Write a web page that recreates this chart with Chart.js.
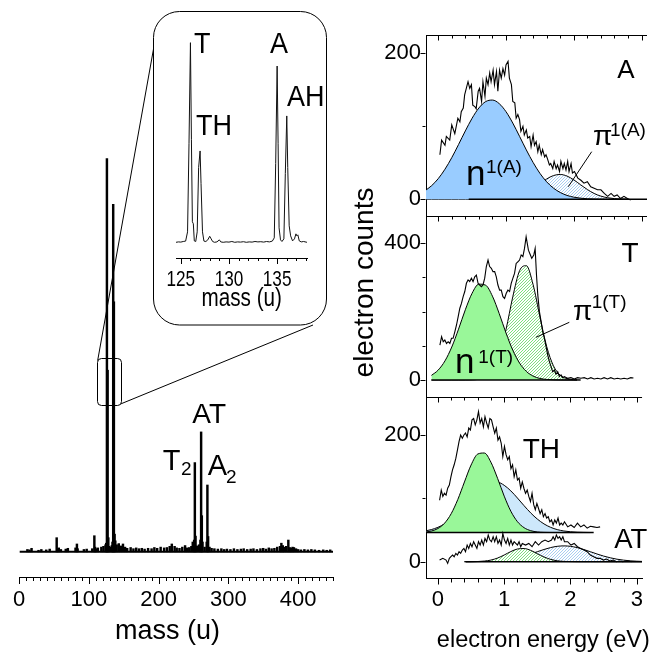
<!DOCTYPE html>
<html>
<head>
<meta charset="utf-8">
<script src="https://cdn.jsdelivr.net/npm/chart.js@4.4.1/dist/chart.umd.min.js"></script>
<style>
    body { margin: 0; background: #fff; }
    #fig { position: relative; width: 652px; height: 652px; overflow: hidden; background: #fff; }
    #fig canvas { position: absolute; }
</style>
</head>
<body>
<div id="fig">
    <canvas id="massChart" width="345" height="652" style="left:0;top:0"></canvas>
    <canvas id="insetChart" width="175" height="315" style="left:153px;top:12px"></canvas>
    <canvas id="panelA" width="312" height="221" style="left:340px;top:15px"></canvas>
    <canvas id="panelT" width="312" height="247" style="left:340px;top:170px"></canvas>
    <canvas id="panelB" width="312" height="275" style="left:340px;top:377px"></canvas>
</div>
<script>
// ─────────────────────────────────────────
//  DATA — mass spectrum (left)
// ─────────────────────────────────────────
const massTicks = [0, 100, 200, 300, 400];
const peakMass = [12, 15, 18, 28, 32, 39, 44, 54, 55, 57,
    60, 67, 70, 81, 83, 84, 93, 97, 105, 108,
    109, 110, 113, 118, 121, 124, 125, 126, 127, 128,
    129, 131, 133, 134, 135, 136, 137, 138, 140, 143,
    146, 149, 152, 155, 160, 164, 168, 172, 176, 180,
    185, 190, 194, 198, 203, 208, 212, 216, 219, 223,
    226, 230, 234, 238, 241, 244, 247, 249, 251, 252,
    253, 255, 258, 260, 261, 262, 263, 266, 269, 270,
    271, 273, 276, 280, 285, 290, 294, 298, 303, 308,
    313, 318, 322, 327, 332, 336, 341, 346, 350, 354,
    358, 362, 366, 370, 374, 376, 378, 380, 383, 386,
    388, 390, 392, 394, 397, 400, 404, 409, 414, 419,
    424, 430, 436, 441, 446];
const peakHeight = [6, 5, 9, 4, 6, 5, 7, 36, 8, 10,
    6, 7, 9, 10, 20, 8, 6, 7, 8, 41,
    12, 8, 10, 12, 14, 18, 22, 1000, 462, 36,
    14, 12, 16, 25, 884, 636, 45, 28, 18, 21,
    15, 20, 12, 9, 11, 8, 10, 8, 9, 7,
    9, 8, 11, 9, 12, 10, 11, 14, 20, 14,
    10, 9, 12, 16, 10, 11, 14, 25, 30, 227,
    40, 15, 18, 30, 305, 92, 25, 12, 25, 170,
    39, 12, 9, 8, 7, 8, 6, 7, 6, 8,
    6, 7, 8, 6, 7, 8, 6, 8, 9, 7,
    10, 8, 9, 12, 14, 22, 16, 12, 14, 30,
    11, 9, 12, 11, 8, 6, 5, 6, 5, 6,
    5, 4, 5, 4, 5];
const massBaseX = [1, 450];
const massBaseY = [0, 0];

// inset (125–138 u)
const insetTicks = [125, 130, 135];
const insetMass = [124.5, 124.75, 125.0, 125.25, 125.5, 125.7, 125.85, 126.0, 126.1, 126.2,
    126.3, 126.4, 126.55, 126.7, 126.85, 127.0, 127.1, 127.25, 127.4, 127.6,
    127.8, 128.0, 128.15, 128.3, 128.5, 128.75, 129.0, 129.15, 129.4, 129.7,
    130.0, 130.3, 130.6, 130.9, 131.2, 131.5, 131.8, 132.1, 132.4, 132.7,
    133.0, 133.3, 133.6, 133.9, 134.2, 134.5, 134.7, 134.85, 135.0, 135.1,
    135.2, 135.35, 135.5, 135.7, 135.85, 136.0, 136.1, 136.25, 136.4, 136.6,
    136.8, 136.95, 137.05, 137.15, 137.3, 137.5, 137.75, 138.0, 138.1];
const insetSignal = [8, 10, 9, 12, 14, 60, 500, 1000, 520, 110,
    100, 15, 12, 60, 380, 462, 300, 60, 14, 12,
    20, 38, 25, 12, 8, 10, 20, 10, 8, 10,
    9, 12, 8, 10, 9, 11, 8, 10, 9, 12,
    10, 11, 9, 12, 10, 14, 30, 400, 884, 500,
    80, 20, 12, 25, 350, 636, 380, 90, 40, 15,
    25, 50, 40, 45, 15, 10, 12, 9, 8];

// ─────────────────────────────────────────
//  DATA — electron spectra (right)
// ─────────────────────────────────────────
const energyTicks = [0, 1, 2, 3];

// A
const expA_E = [0.025, 0.05, 0.10, 0.12, 0.17, 0.20, 0.245, 0.29, 0.32, 0.34,
    0.37, 0.39, 0.42, 0.44, 0.465, 0.49, 0.51, 0.54, 0.56, 0.59,
    0.61, 0.64, 0.66, 0.69, 0.71, 0.735, 0.76, 0.78, 0.81, 0.83,
    0.86, 0.88, 0.905, 0.93, 0.955, 0.98, 1.00, 1.03, 1.05, 1.08,
    1.10, 1.13, 1.15, 1.175, 1.20, 1.22, 1.25, 1.27, 1.30, 1.32,
    1.35, 1.37, 1.40, 1.42, 1.445, 1.47, 1.49, 1.52, 1.54, 1.57,
    1.59, 1.61, 1.64, 1.66, 1.69, 1.71, 1.74, 1.76, 1.79, 1.81,
    1.84, 1.86, 1.885, 1.91, 1.93, 1.96, 1.98, 2.01, 2.06, 2.105,
    2.15, 2.20, 2.25, 2.30, 2.35, 2.40, 2.45, 2.50, 2.55, 2.595,
    2.64, 2.69, 2.74, 2.79, 2.84];
const expA_N = [61, 81, 74, 86, 81, 102, 90, 111, 106, 120,
    125, 143, 154, 161, 152, 157, 129, 127, 124, 148,
    152, 134, 161, 141, 166, 157, 173, 161, 177, 157,
    175, 148, 177, 166, 179, 170, 184, 189, 166, 157,
    134, 132, 111, 116, 109, 93, 100, 88, 95, 84,
    86, 72, 88, 74, 79, 65, 74, 61, 68, 58,
    61, 56, 47, 49, 42, 52, 42, 47, 38, 52,
    42, 49, 40, 52, 38, 49, 36, 38, 29, 26,
    22, 24, 17, 15, 13, 13, 8, 4, 8, 4,
    6, 1, 4, 1, -1];
const fitA_E = [-0.2, -0.1, 0.0, 0.1, 0.2, 0.3, 0.4, 0.5, 0.6, 0.7,
    0.8, 0.9, 1.0, 1.1, 1.2, 1.3, 1.4, 1.5, 1.6, 1.7,
    1.8, 1.9, 2.0, 2.1, 2.2, 2.3, 2.4, 2.5, 2.6, 2.7, 2.8];
const n1A = [11.4, 18.4, 28.2, 41.2, 57, 75, 93.6, 111, 125, 133.8,
    135.9, 131, 120, 104.4, 86.2, 67.6, 50.4, 35.6, 23.9, 15.3,
    9.3, 5.3, 2.9, 1.5, 0.7, 0.3, 0.1, 0, 0, 0, 0];
const pi1A = [0, 0, 0, 0, 0, 0, 0, 0, 0, 0,
    0, 0.4, 1.1, 2.4, 4.9, 9.0, 14.6, 21.3, 27.8, 32.5,
    34, 31.8, 26.6, 19.9, 13.4, 8.0, 4.3, 2.1, 0.9, 0.3, 0.1];
const baseA_E = [0.45, 3.08];
const baseA_N = [0, 0];

// T
const expT_E = [0.025, 0.05, 0.074, 0.098, 0.123, 0.147, 0.172, 0.196, 0.22, 0.245,
    0.27, 0.294, 0.319, 0.343, 0.368, 0.392, 0.416, 0.441, 0.465, 0.49,
    0.514, 0.539, 0.563, 0.588, 0.612, 0.637, 0.661, 0.686, 0.71, 0.735,
    0.759, 0.784, 0.808, 0.833, 0.857, 0.881, 0.906, 0.93, 0.955, 0.979,
    1.004, 1.028, 1.053, 1.077, 1.102, 1.126, 1.15, 1.175, 1.2, 1.224,
    1.249, 1.273, 1.297, 1.331, 1.36, 1.38, 1.41, 1.43, 1.45, 1.469,
    1.493, 1.518, 1.542, 1.567, 1.591, 1.616, 1.64, 1.665, 1.689, 1.714,
    1.738, 1.763, 1.787, 1.812, 1.836, 1.86, 1.909, 1.958, 2.007, 2.056,
    2.105, 2.154, 2.203, 2.252, 2.3, 2.35, 2.4, 2.447, 2.497, 2.546,
    2.595, 2.644, 2.693, 2.742, 2.79, 2.84, 2.88];
const expT_N = [102, 127, 112, 117, 107, 112, 107, 122, 122, 141,
    161, 185, 210, 224, 244, 259, 283, 293, 288, 298,
    288, 302, 307, 283, 278, 273, 278, 298, 332, 351,
    332, 327, 317, 317, 302, 278, 263, 263, 244, 239,
    254, 263, 259, 283, 298, 312, 341, 346, 351, 366,
    361, 385, 419, 380, 366, 356, 366, 385, 307, 249,
    200, 171, 141, 122, 98, 73, 54, 39, 24, 29,
    17, 24, 10, 15, 7, 10, 5, 7, 3, 7,
    5, 7, 3, 7, 3, 5, 3, 7, 3, 7,
    3, 5, 3, 5, 3, 7, 6];
const fitT_E = [-0.1, 0.0, 0.1, 0.2, 0.3, 0.4, 0.5, 0.6, 0.7, 0.8,
    0.9, 1.0, 1.1, 1.2, 1.3, 1.4, 1.5, 1.6, 1.7, 1.8,
    1.9, 2.0, 2.1];
const n1T = [13.5, 29.1, 56, 96.5, 148.9, 205.5, 253.9, 280.5, 277.4, 245.4,
    194.4, 137.8, 87.3, 49.6, 25.2, 11.4, 4.6, 1.7, 0.5, 0.1,
    0, 0, 0];
const pi1T = [0, 0, 0, 0, 0, 0, 0.4, 2.1, 8.4, 27.5,
    71.3, 147.6, 243.4, 319.7, 334.6, 279, 185.3, 98.1, 41.4, 13.9,
    3.7, 0.8, 0.1];
const baseT_E = [-0.1, 2.05];
const baseT_N = [0, 0];

// TH (offset) and AT
const expTH_E = [0.025, 0.05, 0.074, 0.098, 0.123, 0.147, 0.172, 0.196, 0.22, 0.245,
    0.27, 0.294, 0.319, 0.343, 0.368, 0.392, 0.416, 0.441, 0.465, 0.49,
    0.514, 0.539, 0.563, 0.588, 0.612, 0.637, 0.661, 0.686, 0.71, 0.735,
    0.759, 0.784, 0.808, 0.833, 0.857, 0.881, 0.906, 0.93, 0.955, 0.979,
    1.004, 1.028, 1.053, 1.077, 1.102, 1.126, 1.15, 1.175, 1.2, 1.224,
    1.249, 1.273, 1.297, 1.322, 1.347, 1.371, 1.396, 1.42, 1.445, 1.469,
    1.493, 1.518, 1.542, 1.567, 1.591, 1.616, 1.64, 1.665, 1.689, 1.714,
    1.738, 1.763, 1.787, 1.812, 1.836, 1.86, 1.885, 1.909, 1.958, 2.007,
    2.056, 2.105, 2.154, 2.203, 2.252, 2.3, 2.35, 2.4, 2.447];
const expTH_N = [97, 113, 103, 108, 105, 116, 121, 134, 145, 153,
    163, 176, 190, 200, 195, 200, 203, 197, 211, 208,
    224, 226, 216, 224, 237, 219, 226, 213, 229, 219,
    211, 226, 224, 213, 203, 211, 192, 197, 187, 166,
    182, 169, 161, 166, 147, 153, 134, 145, 129, 132,
    116, 126, 116, 108, 113, 103, 95, 108, 90, 82,
    92, 84, 76, 82, 71, 76, 69, 71, 63, 66,
    58, 66, 61, 69, 58, 61, 58, 63, 55, 58,
    54, 61, 55, 58, 53, 56, 55, 54, 55];
const fitTH_E = [-0.2, -0.1, 0.0, 0.1, 0.2, 0.3, 0.4, 0.5, 0.6, 0.7,
    0.8, 0.9, 1.0, 1.1, 1.2, 1.3, 1.4, 1.5, 1.6, 1.7,
    1.8, 1.9, 2.0, 2.1, 2.2, 2.3];
const n1TH = [46.8, 48.4, 52.4, 60.8, 75.8, 98.3, 125.9, 152.6, 169.9, 171.6,
    157, 131.6, 103.5, 79.7, 63.2, 53.7, 49, 47, 46.3, 46.1,
    46, 46, 46, 46, 46, 46];
const piTH = [48.5, 50.7, 54.3, 59.7, 67.3, 77, 88.4, 100.5, 111.8, 120.6,
    125.4, 125.4, 120.6, 111.8, 100.5, 88.4, 77, 67.3, 59.7, 54.3,
    50.7, 48.5, 47.3, 46.6, 46.3, 46.1];
const baseTH_E = [-0.18, 2.35];
const baseTH_N = [46, 46];
const thOffset = 46;

const expAT_E = [0.025, 0.074, 0.123, 0.147, 0.172, 0.196, 0.221, 0.245, 0.27, 0.294,
    0.319, 0.343, 0.368, 0.392, 0.416, 0.441, 0.465, 0.49, 0.514, 0.539,
    0.563, 0.588, 0.612, 0.637, 0.661, 0.686, 0.71, 0.735, 0.759, 0.784,
    0.808, 0.833, 0.857, 0.881, 0.906, 0.93, 0.955, 0.979, 1.004, 1.028,
    1.053, 1.077, 1.102, 1.126, 1.15, 1.175, 1.2, 1.224, 1.249, 1.273,
    1.322, 1.371, 1.42, 1.469, 1.518, 1.567, 1.616, 1.665, 1.714, 1.738,
    1.763, 1.787, 1.812, 1.836, 1.86, 1.885, 1.909, 1.958, 2.007, 2.056,
    2.105, 2.154, 2.203, 2.252, 2.3, 2.35, 2.4, 2.447, 2.497, 2.546,
    2.595, 2.644, 2.693, 2.742, 2.79, 2.839, 2.88, 2.92];
const expAT_N = [2.6, 5.3, 2.6, -2.6, 5.3, 7.9, 10.5, 7.9, 13.2, 10.5,
    15.8, 13.2, 18.4, 21, 15.8, 26.3, 21, 28.9, 23.7, 31.6,
    26.3, 21, 31.6, 26.3, 34.2, 26.3, 36.8, 31.6, 42.1, 34.2,
    31.6, 39.5, 31.6, 39.5, 28.9, 34.2, 26.3, 44.7, 34.2, 28.9,
    36.8, 26.3, 34.2, 26.3, 31.6, 28.9, 26.3, 31.6, 23.7, 28.9,
    26.3, 28.9, 23.7, 31.6, 26.3, 31.6, 34.2, 31.6, 34.2, 39.5,
    34.2, 42.1, 36.8, 39.5, 34.2, 39.5, 31.6, 31.6, 26.3, 28.9,
    23.7, 21, 18.4, 15.8, 10.5, 7.9, 5.3, 5.3, 2.6, 4.2,
    1, 2.6, 0, 1, 0, 1, 1, 0];
const fitAT_E = [0.4, 0.5, 0.6, 0.7, 0.8, 0.9, 1.0, 1.1, 1.2, 1.3,
    1.4, 1.5, 1.6, 1.7, 1.8, 1.9, 2.0, 2.1, 2.2, 2.3,
    2.4, 2.5, 2.6, 2.7, 2.8, 2.9, 3.0, 3.1];
const atGreen = [0, 0.1, 0.3, 1, 2.6, 5.8, 10.6, 16, 20.1, 20.8,
    17.9, 12.7, 7.5, 3.7, 1.5, 0.5, 0.2, 0, 0, 0,
    0, 0, 0, 0, 0, 0, 0, 0];
const atBlue = [0, 0, 0.2, 0.4, 0.8, 1.4, 2.5, 4, 6.2, 8.9,
    12.2, 15.8, 19.3, 22.3, 24.3, 25, 24.3, 22.3, 19.3, 15.8,
    12.2, 8.9, 6.2, 4, 2.5, 1.4, 0.8, 0.4];
const baseAT_E = [0.42, 3.08];
const baseAT_N = [0, 0];

// ─────────────────────────────────────────
//  HELPERS
// ─────────────────────────────────────────
const FONT = '"Liberation Sans", Arial, Helvetica, sans-serif';
Chart.defaults.font.family = FONT;
Chart.defaults.color = '#000';

const BLUE = '#99ccff';
const GREEN = '#99f799';
const PALE_BLUE = '#cde8fb';

function pts(xs, ys) {
    return xs.map((x, i) => ({ x: x, y: ys[i] }));
}

// diagonal hatch used for the pi fits
function hatch(lineColor) {
    const c = document.createElement('canvas');
    c.width = 3; c.height = 3;
    const g = c.getContext('2d');
    g.fillStyle = '#fff';
    g.fillRect(0, 0, 3, 3);
    g.fillStyle = lineColor;
    // one-pixel diagonal, tiles into continuous "/" lines
    g.fillRect(2, 0, 1, 1);
    g.fillRect(1, 1, 1, 1);
    g.fillRect(0, 2, 1, 1);
    return g.createPattern(c, 'repeat');
}
const HATCH_BLUE = hatch('#a9cdf0');
const HATCH_GREEN = hatch('#7fe07f');

function say(ctx, s, x, y, size, align, sx) {
    ctx.save();
    ctx.font = size + 'px ' + FONT;
    ctx.fillStyle = '#000';
    ctx.textAlign = align || 'center';
    ctx.textBaseline = 'alphabetic';
    ctx.translate(x, y);
    if (sx) ctx.scale(sx, 1);
    ctx.fillText(s, 0, 0);
    ctx.restore();
}

function roundRect(ctx, x, y, w, h, r) {
    ctx.beginPath();
    ctx.moveTo(x + r, y);
    ctx.arcTo(x + w, y, x + w, y + h, r);
    ctx.arcTo(x + w, y + h, x, y + h, r);
    ctx.arcTo(x, y + h, x, y, r);
    ctx.arcTo(x, y, x + w, y, r);
    ctx.closePath();
}

function expLine(xs, ys) {
    return { data: pts(xs, ys), borderColor: '#000', borderWidth: 1.1, pointRadius: 0, tension: 0, fill: false };
}
function fitCurve(xs, ys, bg, base) {
    return {
        data: pts(xs, ys), borderColor: '#000', borderWidth: 1, pointRadius: 0,
        cubicInterpolationMode: 'monotone', backgroundColor: bg,
        fill: base === undefined ? 'origin' : { value: base }
    };
}
function baseLine(xs, ys) {
    return { data: pts(xs, ys), borderColor: '#000', borderWidth: 1.5, pointRadius: 0, fill: false };
}

// ─────────────────────────────────────────
//  1. MASS SPECTRUM (left)
// ─────────────────────────────────────────
const massDecor = {
    id: 'massDecor',
    afterDraw(chart) {
        const ctx = chart.ctx, a = chart.chartArea, xs = chart.scales.x, ys = chart.scales.y;
        ctx.save();
        ctx.strokeStyle = '#000';
        ctx.lineWidth = 1;
        ctx.beginPath();
        for (let v = 0; v <= 450; v += 10) {
            const px = Math.round(xs.getPixelForValue(v)) + 0.5;
            ctx.moveTo(px, a.bottom);
            ctx.lineTo(px, a.bottom + (v % 100 === 0 ? 7 : 4));
        }
        ctx.stroke();

        // inset frame
        roundRect(ctx, 153.5, 11.5, 173, 313.5, 26);
        ctx.fillStyle = '#fff';
        ctx.fill();
        ctx.stroke();

        // zoom box on the 125-138 u group
        const x0 = xs.getPixelForValue(112), x1 = xs.getPixelForValue(147);
        const y0 = ys.getPixelForValue(494), y1 = ys.getPixelForValue(374);
        roundRect(ctx, Math.round(x0) + 0.5, Math.round(y0) + 0.5, Math.round(x1 - x0), Math.round(y1 - y0), 4);
        ctx.stroke();
        ctx.beginPath();
        ctx.moveTo(x0 + 0.5, y0 + 3); ctx.lineTo(153.5, 49);
        ctx.moveTo(x1 - 0.5, y1 - 1); ctx.lineTo(313, 325);
        ctx.stroke();

        say(ctx, 'T', 171.7, 470, 29);
        say(ctx, '2', 181, 475, 19, 'left');
        say(ctx, 'AT', 209.2, 423.3, 28);
        say(ctx, 'A', 217.5, 475, 29);
        say(ctx, '2', 226, 483, 19, 'left');
        say(ctx, 'mass (u)', 167.5, 638.5, 27);
        ctx.restore();
    }
};

new Chart(document.getElementById('massChart'), {
    type: 'bar',
    data: {
        datasets: [
            { type: 'bar', data: pts(peakMass, peakHeight), backgroundColor: '#000', borderWidth: 0, barThickness: 1.8 },
            { type: 'line', data: pts(massBaseX, massBaseY), borderColor: '#000', borderWidth: 2, pointRadius: 0 }
        ]
    },
    options: {
        responsive: false, animation: false, events: [],
        layout: { padding: { left: 19, right: 12, top: 139, bottom: 0 } },
        plugins: { legend: { display: false }, tooltip: { enabled: false } },
        scales: {
            x: {
                type: 'linear', min: 0, max: 450, offset: false,
                grid: { display: false, drawTicks: false },
                border: { color: '#000', width: 1 },
                ticks: { font: { size: 22 }, padding: 10, color: '#000' },
                afterBuildTicks: s => { s.ticks = massTicks.map(v => ({ value: v })); },
                afterFit: s => { s.height = 75; }
            },
            y: { display: false, min: -64, max: 1050 }
        }
    },
    plugins: [massDecor]
});

// ─────────────────────────────────────────
//  2. INSET
// ─────────────────────────────────────────
const insetDecor = {
    id: 'insetDecor',
    afterDraw(chart) {
        const ctx = chart.ctx, a = chart.chartArea, xs = chart.scales.x;
        ctx.save();
        ctx.strokeStyle = '#000';
        ctx.lineWidth = 1;
        ctx.beginPath();
        for (let v = 125; v <= 138; v++) {
            const px = Math.round(xs.getPixelForValue(v)) + 0.5;
            ctx.moveTo(px, a.bottom);
            ctx.lineTo(px, a.bottom + (v % 5 === 0 ? 6 : 3));
        }
        ctx.stroke();
        insetTicks.forEach(v => say(ctx, String(v), xs.getPixelForValue(v), 286 - 12, 22, 'center', 0.78));
        ctx.translate(-153, -12);
        say(ctx, 'T', 202.3, 53.3, 30, 'center', 0.9);
        say(ctx, 'TH', 214, 135, 30, 'center', 0.9);
        say(ctx, 'A', 279, 53.3, 30, 'center', 0.9);
        say(ctx, 'AH', 305.8, 106, 30, 'center', 0.9);
        say(ctx, 'mass (u)', 241.7, 306, 26.5, 'center', 0.78);
        ctx.restore();
    }
};

new Chart(document.getElementById('insetChart'), {
    type: 'line',
    data: {
        datasets: [{ data: pts(insetMass, insetSignal), borderColor: '#111', borderWidth: 1, pointRadius: 0, tension: 0 }]
    },
    options: {
        responsive: false, animation: false, events: [],
        layout: { padding: { left: 23, right: 21, top: 18, bottom: 0 } },
        plugins: { legend: { display: false }, tooltip: { enabled: false } },
        scales: {
            x: {
                type: 'linear', min: 124.5, max: 138.1,
                grid: { display: false, drawTicks: false },
                border: { color: '#000', width: 1 },
                ticks: { display: false },
                afterFit: s => { s.height = 69; }
            },
            y: { display: false, min: -70, max: 1063 }
        }
    },
    plugins: [insetDecor]
});

// ─────────────────────────────────────────
//  3. ELECTRON SPECTRA PANELS (right)
// ─────────────────────────────────────────
function panelFrame(chart, cfg) {
    const ctx = chart.ctx, a = chart.chartArea, xs = chart.scales.x, ys = chart.scales.y;
    ctx.save();
    ctx.strokeStyle = '#000';
    ctx.lineWidth = 1;
    ctx.beginPath();
    const top = Math.round(a.top) + 0.5;
    const bottom = Math.round(a.bottom) + 0.5;
    const left = Math.round(a.left) - 0.5;
    ctx.moveTo(a.left, top);
    ctx.lineTo(a.right, top);
    for (let i = 0; i <= 15; i++) {
        const px = Math.round(xs.getPixelForValue(i * 0.2)) + 0.5;
        const len = i % 5 === 0 ? 5 : 3;
        ctx.moveTo(px, top); ctx.lineTo(px, top + len);
        if (cfg.showX) { ctx.moveTo(px, bottom); ctx.lineTo(px, bottom + len + 1); }
    }
    cfg.yMajor.forEach(v => {
        const py = Math.round(ys.getPixelForValue(v)) + 0.5;
        ctx.moveTo(left, py); ctx.lineTo(left - 5, py);
    });
    cfg.yMinor.forEach(v => {
        const py = Math.round(ys.getPixelForValue(v)) + 0.5;
        ctx.moveTo(left, py); ctx.lineTo(left - 3, py);
    });
    ctx.stroke();
    ctx.translate(-cfg.left, -cfg.top);
    cfg.notes(ctx);
    ctx.restore();
}

function panel(cfg) {
    const xAxis = {
        type: 'linear', min: -0.18, max: 3.08, display: cfg.showX,
        grid: { display: false, drawTicks: false },
        border: { color: '#000', width: 1 },
        ticks: { font: { size: 22 }, padding: 9, color: '#000' },
        afterBuildTicks: s => { s.ticks = energyTicks.map(v => ({ value: v })); }
    };
    if (cfg.showX) xAxis.afterFit = s => { s.height = 74; };

    return new Chart(document.getElementById(cfg.id), {
        type: 'line',
        data: { datasets: cfg.datasets },
        options: {
            responsive: false, animation: false, events: [],
            layout: { padding: { left: 0, right: 5, top: cfg.padTop, bottom: cfg.padBottom } },
            plugins: { legend: { display: false }, tooltip: { enabled: false } },
            scales: {
                x: xAxis,
                y: {
                    min: cfg.yMin, max: cfg.yMax,
                    grid: { display: false, drawTicks: false },
                    border: { color: '#000', width: 1 },
                    ticks: { font: { size: 22 }, padding: 5, color: '#000' },
                    afterBuildTicks: s => { s.ticks = cfg.yMajor.map(v => ({ value: v })); },
                    afterFit: s => { s.width = 86; }
                }
            }
        },
        plugins: [{ id: 'frame_' + cfg.id, afterDraw: chart => panelFrame(chart, cfg) }]
    });
}

function leader(ctx, x0, y0, x1, y1) {
    ctx.beginPath();
    ctx.moveTo(x0, y0);
    ctx.lineTo(x1, y1);
    ctx.stroke();
}

panel({
    id: 'panelA', left: 340, top: 15, padTop: 20, padBottom: 20, showX: false,
    yMin: -22.9, yMax: 225, yMajor: [0, 200], yMinor: [100],
    datasets: [
        expLine(expA_E, expA_N),
        baseLine(baseA_E, baseA_N),
        fitCurve(fitA_E, n1A, BLUE),
        fitCurve(fitA_E, pi1A, HATCH_BLUE)
    ],
    notes: ctx => {
        say(ctx, 'A', 625.8, 78.3, 26);
        say(ctx, 'n', 466, 185, 35, 'left');
        say(ctx, '1(A)', 486, 172.5, 19, 'left');
        say(ctx, '\u03c0', 593, 145, 28, 'left');
        say(ctx, '1(A)', 610, 136, 19, 'left');
        leader(ctx, 591.7, 151.7, 568.3, 186.7);
    }
});

panel({
    id: 'panelT', left: 340, top: 170, padTop: 46, padBottom: 20, showX: false,
    yMin: -49.7, yMax: 479.9, yMajor: [0, 400], yMinor: [100, 200, 300],
    datasets: [
        expLine(expT_E, expT_N),
        baseLine(baseT_E, baseT_N),
        fitCurve(fitT_E, n1T, GREEN),
        fitCurve(fitT_E, pi1T, HATCH_GREEN)
    ],
    notes: ctx => {
        say(ctx, 'T', 630, 261.7, 28);
        say(ctx, 'n', 455, 373.3, 35, 'left');
        say(ctx, '1(T)', 478.3, 362.5, 19, 'left');
        say(ctx, '\u03c0', 573, 320, 28, 'left');
        say(ctx, '1(T)', 591.7, 307.5, 19, 'left');
        leader(ctx, 569.3, 322.3, 536, 337.3);
        ctx.save();
        ctx.translate(373.3, 282.5);
        ctx.rotate(-Math.PI / 2);
        say(ctx, 'electron counts', 0, 0, 28);
        ctx.restore();
    }
});

panel({
    id: 'panelB', left: 340, top: 377, padTop: 20, padBottom: 0, showX: true,
    yMin: -25.7, yMax: 260, yMajor: [0, 200], yMinor: [100],
    datasets: [
        expLine(expTH_E, expTH_N),
        expLine(expAT_E, expAT_N),
        baseLine(baseTH_E, baseTH_N),
        baseLine(baseAT_E, baseAT_N),
        fitCurve(fitTH_E, n1TH, GREEN, thOffset),
        fitCurve(fitTH_E, piTH, PALE_BLUE, thOffset),
        fitCurve(fitAT_E, atGreen, HATCH_GREEN),
        fitCurve(fitAT_E, atBlue, HATCH_BLUE)
    ],
    notes: ctx => {
        say(ctx, 'TH', 541.3, 458.3, 28);
        say(ctx, 'AT', 630.8, 548.3, 27.5);
        say(ctx, 'electron energy (eV)', 543.3, 646.5, 23.5);
    }
});
</script>
</body>
</html>
